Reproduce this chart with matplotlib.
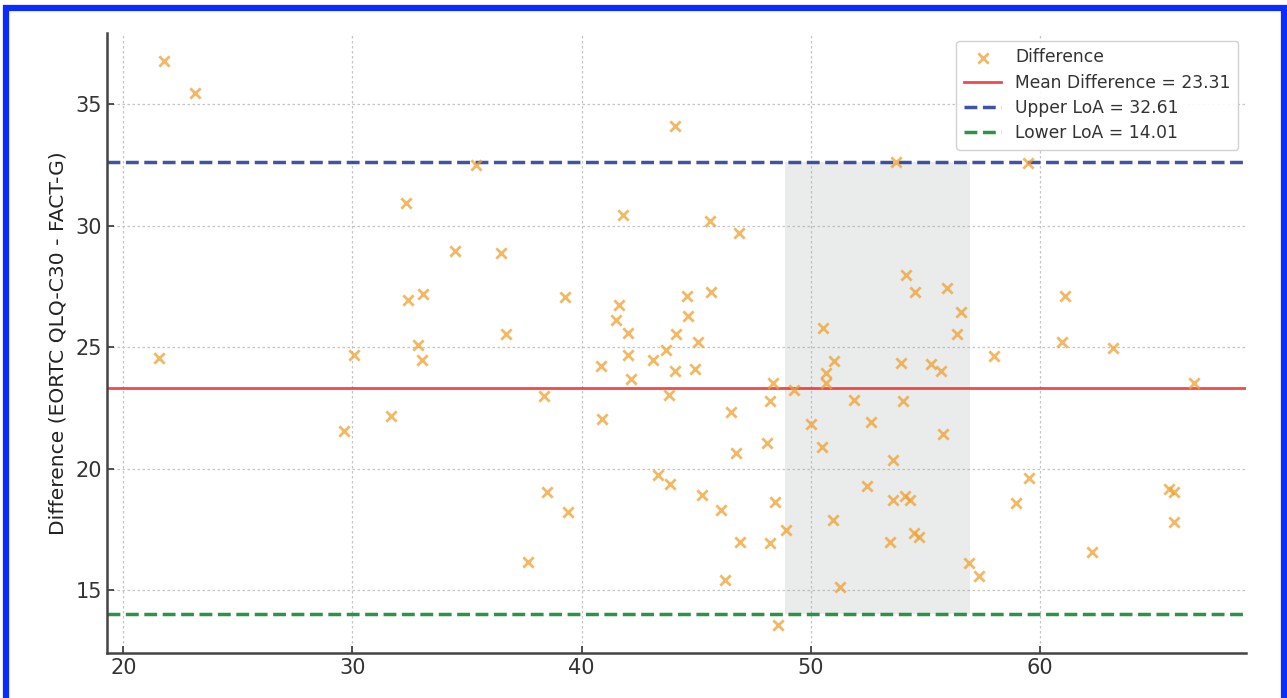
import matplotlib
matplotlib.use("Agg")
from matplotlib import pyplot as plt
from matplotlib.patches import Rectangle

# mean of the two scores (x) and their difference (y), one pair per patient
mean_scores = [
    21.75, 23.13, 32.33, 32.42, 33.09, 32.85, 34.46, 21.54, 30.06, 33.02,
    29.62, 31.66, 35.39, 44.06, 41.80, 45.59, 46.89, 36.48, 39.27, 41.62,
    44.60, 45.67, 41.50, 44.66, 42.05, 44.14, 36.69, 50.55, 45.07, 43.71,
    38.38, 40.86, 42.05, 43.10, 42.17, 44.08, 44.95, 43.81, 40.91, 46.51,
    48.25, 48.35, 49.27, 50.66, 50.68, 51.04, 51.89, 52.66, 50.01, 50.52,
    46.76, 48.10, 43.36, 43.86, 38.51, 39.40, 45.27, 46.07, 48.43, 48.93,
    46.90, 48.25, 50.96, 52.47, 37.66, 46.28, 51.28, 48.58, 53.71, 59.50,
    54.15, 54.57, 55.97, 56.55, 56.41, 61.10, 60.96, 63.21, 58.01, 53.96,
    55.24, 55.68, 66.75, 54.03, 55.77, 53.61, 59.56, 58.95, 53.61, 54.12,
    54.33, 53.49, 54.51, 54.73, 56.92, 57.35, 62.30, 65.66, 65.88, 65.88,
]
differences = [
    36.76, 35.46, 30.94, 26.93, 27.20, 25.10, 28.96, 24.56, 24.67, 24.47,
    21.57, 22.18, 32.49, 34.10, 30.44, 30.19, 29.70, 28.87, 27.06, 26.75,
    27.10, 27.25, 26.11, 26.28, 25.59, 25.56, 25.52, 25.78, 25.22, 24.90,
    22.99, 24.22, 24.67, 24.47, 23.68, 24.02, 24.09, 23.03, 22.05, 22.35,
    22.79, 23.51, 23.24, 23.92, 23.54, 24.41, 22.81, 21.94, 21.84, 20.91,
    20.66, 21.05, 19.75, 19.37, 19.06, 18.23, 18.93, 18.31, 18.62, 17.46,
    16.98, 16.93, 17.87, 19.27, 16.18, 15.42, 15.15, 13.58, 32.62, 32.57,
    27.98, 27.27, 27.45, 26.45, 25.52, 27.12, 25.22, 24.97, 24.63, 24.33,
    24.30, 24.02, 23.51, 22.79, 21.43, 20.34, 19.60, 18.57, 18.73, 18.89,
    18.73, 17.00, 17.34, 17.20, 16.11, 15.59, 16.59, 19.17, 19.06, 17.82,
]

mean_diff = 23.31
upper_loa = 32.61
lower_loa = 14.01
band_x = [48.9, 56.95]

fig = plt.figure(figsize=(12.87, 6.98), dpi=100)
ax = fig.add_axes([0.0831, 0.0645, 0.8850, 0.8882])

ax.fill_between(band_x, lower_loa, upper_loa, color="#9aa49f", alpha=0.2,
                linewidth=0, zorder=1)
ax.scatter(mean_scores, differences, marker="x", s=55, linewidths=2,
           color="#f0a030", alpha=0.75, label="Difference", zorder=3)
ax.axhline(mean_diff, color="#f02a2a", alpha=0.85, linewidth=2,
           label="Mean Difference = %.2f" % mean_diff, zorder=2)
ax.axhline(upper_loa, color="#1f3593", alpha=0.85, linewidth=2.5,
           linestyle="--", label="Upper LoA = %.2f" % upper_loa, zorder=2)
ax.axhline(lower_loa, color="#0a7f2a", alpha=0.85, linewidth=2.5,
           linestyle="--", label="Lower LoA = %.2f" % lower_loa, zorder=2)

ax.set_ylabel("Difference (EORTC QLQ-C30 - FACT-G)", fontsize=14.6,
              color="#222222", labelpad=6)
ax.set_xticks([20, 30, 40, 50, 60])
ax.set_yticks([15, 20, 25, 30, 35])
ax.tick_params(direction="in", labelsize=15, colors="#333333", length=5,
               width=1.2)
ax.grid(True, color="#c4c4c4", linestyle=(0, (2, 2)), linewidth=0.9)
ax.set_axisbelow(True)
for side in ["top", "right"]:
    ax.spines[side].set_visible(False)
for side in ["left", "bottom"]:
    ax.spines[side].set_color("#444444")
    ax.spines[side].set_linewidth(1.8)

leg = ax.legend(loc="upper right", fontsize=12.3, framealpha=0.9,
                borderpad=0.45, labelspacing=0.42, handlelength=2.2,
                handletextpad=0.8, borderaxespad=0.45)
leg.get_frame().set_edgecolor("#cccccc")
for t in leg.get_texts():
    t.set_color("#333333")

# blue frame around the figure
fig.add_artist(Rectangle((0.0047, -0.05), 0.9926, 1.0385, transform=fig.transFigure,
                         fill=False, edgecolor="#0a2cff", linewidth=4.5))

fig.savefig("out.png", dpi=100)
